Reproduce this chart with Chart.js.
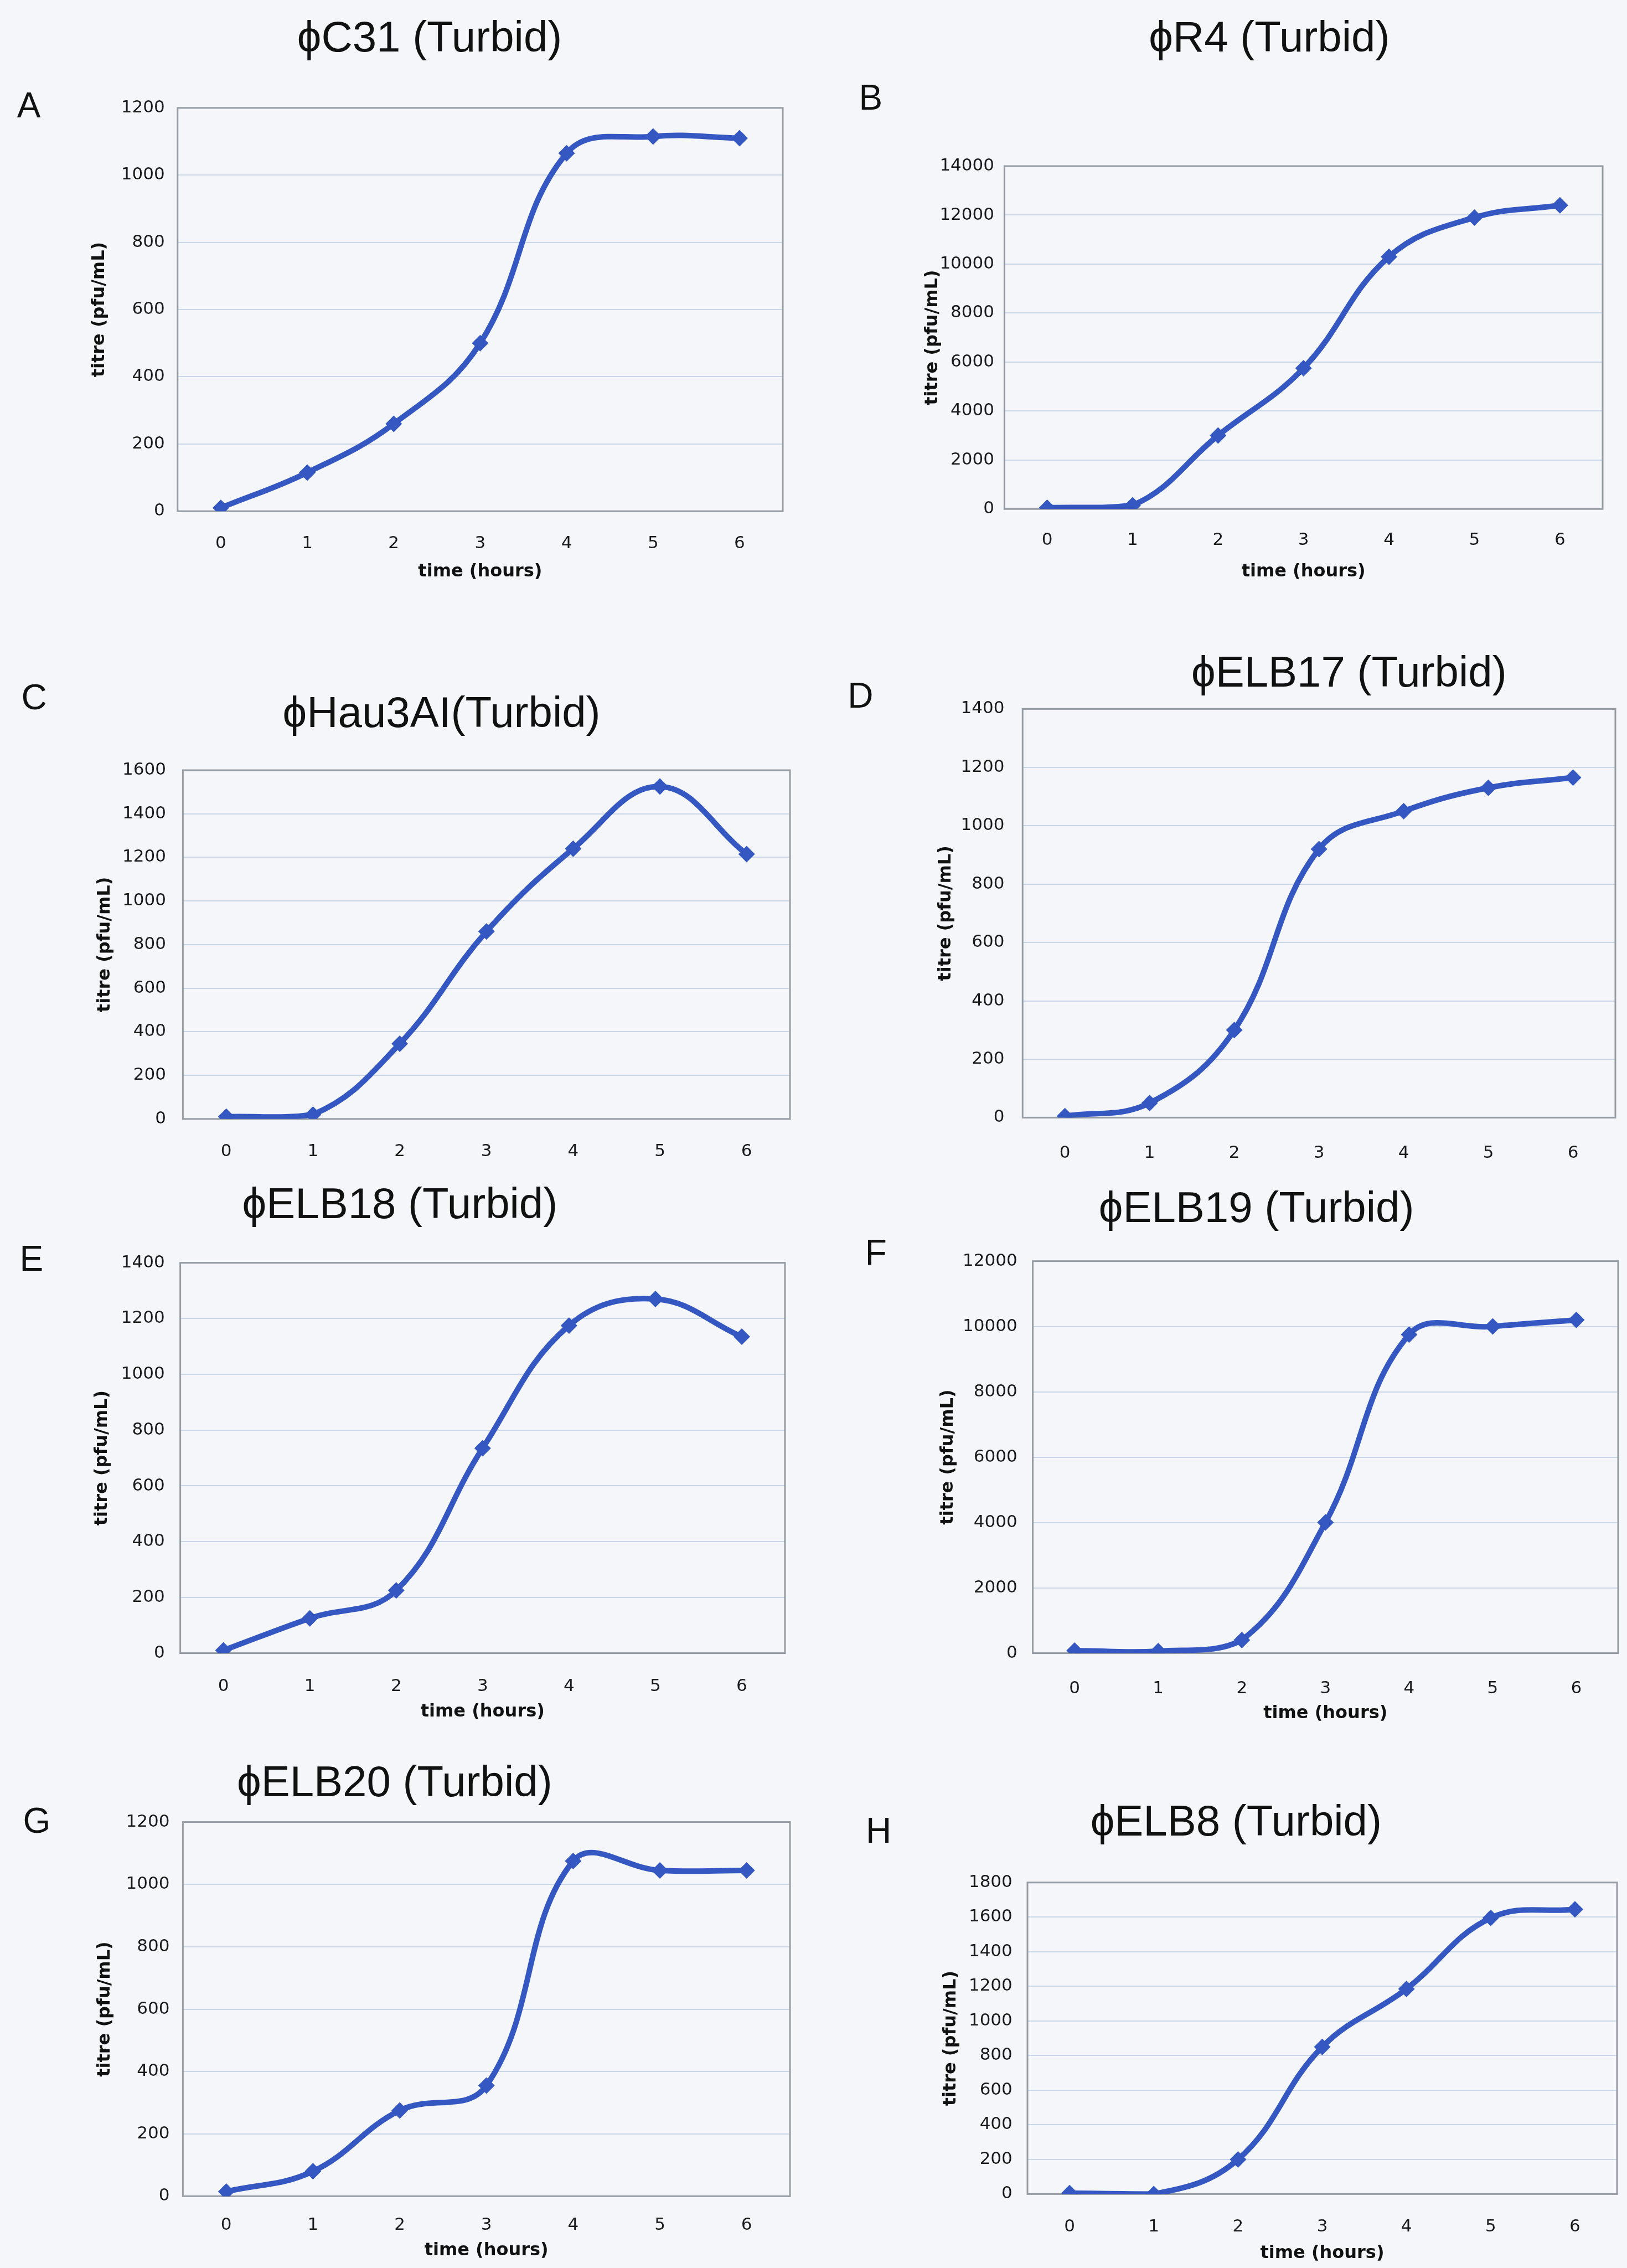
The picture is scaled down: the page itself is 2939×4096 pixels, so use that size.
<!DOCTYPE html>
<html>
<head>
<meta charset="utf-8">
<script src="https://cdn.jsdelivr.net/npm/chart.js@4.4.1/dist/chart.umd.min.js"></script>
<style>
  html, body { margin: 0; padding: 0; }
  body {
    width: 2939px; height: 4096px; position: relative; overflow: hidden;
    background: #f4f6f9;
    font-family: "Liberation Sans", Arial, sans-serif;
  }
  .title, .letter {
    position: absolute; transform: translate(-50%, -50%);
    white-space: nowrap; line-height: 1; color: #111;
  }
  .title { font-size: 78px; }
  .letter { font-size: 64px; }
  canvas { position: absolute; }
</style>
</head>
<body>
<script>
// time points (hours)
const hours = ['0', '1', '2', '3', '4', '5', '6'];

// titre (pfu/mL)
const phiC31   = [10, 115, 260, 500, 1065, 1115, 1110];
const phiR4    = [50, 150, 3000, 5750, 10300, 11900, 12400];
const phiHau3AI = [10, 20, 345, 860, 1240, 1525, 1215];
const phiELB17 = [5, 50, 300, 920, 1050, 1130, 1165];
const phiELB18 = [10, 125, 225, 735, 1175, 1270, 1135];
const phiELB19 = [80, 60, 400, 4000, 9750, 10000, 10200];
const phiELB20 = [15, 80, 275, 355, 1075, 1045, 1045];
const phiELB8  = [5, 0, 200, 850, 1185, 1595, 1645];

const series = [phiC31, phiR4, phiHau3AI, phiELB17, phiELB18, phiELB19, phiELB20, phiELB8];
const panelTitles = ['\u03d5C31 (Turbid)', '\u03d5R4 (Turbid)', '\u03d5Hau3AI(Turbid)', '\u03d5ELB17 (Turbid)',
                     '\u03d5ELB18 (Turbid)', '\u03d5ELB19 (Turbid)', '\u03d5ELB20 (Turbid)', '\u03d5ELB8 (Turbid)'];
const panelLetters = ['A', 'B', 'C', 'D', 'E', 'F', 'G', 'H'];
const yMax  = [1200, 14000, 1600, 1400, 1400, 12000, 1200, 1800];
const yStep = [200, 2000, 200, 200, 200, 2000, 200, 200];

// panel geometry measured on the full-size reference (px), scaled by S below
// pl/pr/pt/pb plot box, tx/ty title centre, lx/ly letter centre,
// yr right edge of y labels, xt x-label centre, xh x-title centre (null = cropped), yx y-title centre
const layout = [
  { pl: 401,  pr: 1776, pt: 241,  pb: 1154, tx: 970,  ty: 82,   lx: 65,   ly: 237,  yr: 372,  xt: 1218, xh: 1291, yx: 224 },
  { pl: 2268, pr: 3627, pt: 375,  pb: 1149, tx: 2866, ty: 82,   lx: 1966, ly: 220,  yr: 2245, xt: 1210, xh: 1291, yx: 2105 },
  { pl: 413,  pr: 1793, pt: 1727, pb: 2526, tx: 997,  ty: 1607, lx: 77,   ly: 1574, yr: 375,  xt: 2590, xh: null, yx: 236 },
  { pl: 2309, pr: 3656, pt: 1586, pb: 2523, tx: 3046, ty: 1516, lx: 1943, ly: 1570, yr: 2268, xt: 2594, xh: null, yx: 2135 },
  { pl: 407,  pr: 1781, pt: 2842, pb: 3732, tx: 903,  ty: 2716, lx: 71,   ly: 2841, yr: 372,  xt: 3798, xh: 3865, yx: 230 },
  { pl: 2332, pr: 3662, pt: 2839, pb: 3732, tx: 2837, ty: 2725, lx: 1978, ly: 2828, yr: 2297, xt: 3803, xh: 3869, yx: 2140 },
  { pl: 413,  pr: 1793, pt: 4110, pb: 4958, tx: 891,  ty: 4021, lx: 83,   ly: 4110, yr: 383,  xt: 5014, xh: 5081, yx: 236 },
  { pl: 2320, pr: 3660, pt: 4242, pb: 4953, tx: 2791, ty: 4110, lx: 1984, ly: 4132, yr: 2286, xt: 5018, xh: 5087, yx: 2146 }
];

const S = 0.8;
const tickFont = 31;
const axisFont = 32;
const lineBlue = '#3457c2';

// grey border round the plot area, like the Excel plot frame
const framePlugin = {
  id: 'frame',
  beforeDatasetsDraw(chart) {
    const { ctx, chartArea } = chart;
    ctx.save();
    ctx.strokeStyle = '#969ca3';
    ctx.lineWidth = 3;
    ctx.strokeRect(chartArea.left, chartArea.top, chartArea.right - chartArea.left, chartArea.bottom - chartArea.top);
    ctx.restore();
  }
};

function addText(cls, text, x, y) {
  const d = document.createElement('div');
  d.className = cls;
  d.textContent = text;
  d.style.left = (x * S) + 'px';
  d.style.top = (y * S) + 'px';
  document.body.appendChild(d);
}

function makePanel(i) {
  const L = layout[i];
  const axLH = axisFont * 1.2;
  const left = Math.round(L.yx * S - axLH / 2 - 2);
  const top = Math.round(L.pt * S - 40);
  const right = Math.round(L.pr * S + 8);
  const bottom = Math.round(L.xh ? L.xh * S + axLH / 2 + 2 : L.xt * S + 30);

  const canvas = document.createElement('canvas');
  canvas.width = right - left;
  canvas.height = bottom - top;
  canvas.style.left = left + 'px';
  canvas.style.top = top + 'px';
  canvas.style.width = (right - left) + 'px';
  canvas.style.height = (bottom - top) + 'px';
  document.body.appendChild(canvas);

  const yWidth = L.pl * S - left;
  const xHeight = bottom - L.pb * S;

  new Chart(canvas, {
    type: 'line',
    data: {
      labels: hours,
      datasets: [{
        data: series[i],
        borderColor: lineBlue,
        backgroundColor: lineBlue,
        borderWidth: 10,
        tension: 0.4,
        fill: false,
        pointStyle: 'rectRot',
        pointRadius: 15,
        pointBorderWidth: 0
      }]
    },
    options: {
      responsive: false,
      animation: false,
      events: [],
      layout: { padding: { top: 40, right: 8, left: 0, bottom: 0 } },
      plugins: { legend: { display: false }, tooltip: { enabled: false } },
      scales: {
        x: {
          type: 'category',
          offset: true,
          grid: { display: false },
          border: { display: false },
          ticks: {
            font: { family: 'DejaVu Sans', size: tickFont },
            color: '#1a1a1a',
            padding: L.xt * S - L.pb * S - tickFont * 0.6,
            maxRotation: 0,
            autoSkip: false
          },
          title: {
            display: !!L.xh,
            text: 'time (hours)',
            font: { family: 'DejaVu Sans', size: axisFont, weight: 'bold' },
            color: '#111',
            padding: { top: 0, bottom: 2 }
          },
          afterFit: s => { s.height = xHeight; }
        },
        y: {
          min: 0,
          max: yMax[i],
          ticks: {
            stepSize: yStep[i],
            font: { family: 'DejaVu Sans', size: tickFont },
            color: '#1a1a1a',
            padding: (L.pl - L.yr) * S,
            callback: v => String(v)
          },
          grid: { color: '#cbd7e8', lineWidth: 2, drawTicks: false },
          border: { display: false },
          title: {
            display: true,
            text: 'titre (pfu/mL)',
            font: { family: 'DejaVu Sans', size: axisFont, weight: 'bold' },
            color: '#111',
            padding: { top: 2, bottom: 0 }
          },
          afterFit: s => { s.width = yWidth; }
        }
      }
    },
    plugins: [framePlugin]
  });

  addText('title', panelTitles[i], L.tx, L.ty);
  addText('letter', panelLetters[i], L.lx, L.ly);
}

for (let i = 0; i < series.length; i++) {
  makePanel(i);
}
</script>
</body>
</html>
